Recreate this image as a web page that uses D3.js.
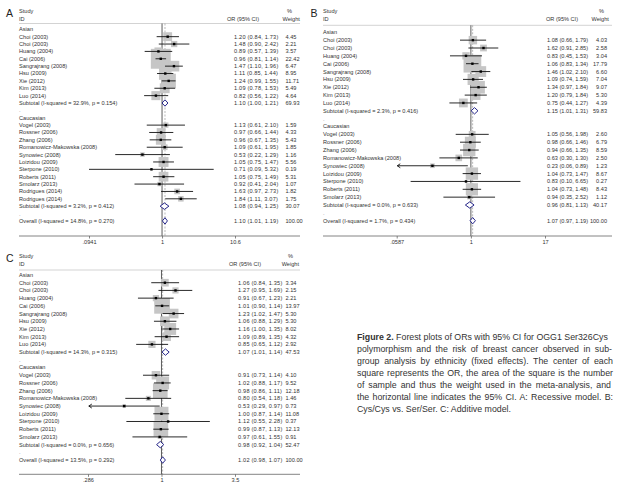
<!DOCTYPE html>
<html>
<head>
<meta charset="utf-8">
<script src="https://cdn.jsdelivr.net/npm/d3@7"></script>
<style>
  body { margin: 0; background: #fff; }
  svg { display: block; font-family: 'Liberation Sans', Arial, sans-serif; }
</style>
</head>
<body>
<svg id="chart" width="617" height="494"></svg>
<script>
// study labels
const asianStudies = ['Choi (2003)', 'Choi (2003)', 'Huang (2004)', 'Cai (2006)',
  'Sangrajrang (2008)', 'Hsu (2009)', 'Xie (2012)', 'Kim (2013)', 'Luo (2014)'];
const caucasianStudiesA = ['Vogel (2003)', 'Rossner (2006)', 'Zhang (2006)',
  'Romanowicz-Makowska (2008)', 'Synowiec (2008)', 'Loizidou (2009)',
  'Sterpone (2010)', 'Roberts (2011)', 'Smolarz (2013)', 'Rodrigues (2014)',
  'Rodrigues (2014)'];
const caucasianStudiesBC = caucasianStudiesA.slice(0, 9);

// [OR, lower, upper, % weight]
const asianA = [[1.20, 0.84, 1.73, 4.45], [1.48, 0.90, 2.42, 2.21], [0.89, 0.57, 1.39, 3.57],
  [0.96, 0.81, 1.14, 22.42], [1.47, 1.10, 1.96, 6.47], [1.11, 0.85, 1.44, 8.95],
  [1.24, 0.99, 1.55, 11.71], [1.09, 0.78, 1.53, 5.49], [0.82, 0.56, 1.22, 4.64]];
const caucasianA = [[1.13, 0.61, 2.10, 1.59], [0.97, 0.66, 1.44, 4.33], [0.96, 0.67, 1.35, 5.43],
  [1.09, 0.61, 1.95, 1.85], [0.53, 0.22, 1.29, 1.16], [1.05, 0.75, 1.47, 5.56],
  [0.71, 0.09, 5.32, 0.19], [1.05, 0.75, 1.49, 5.31], [0.92, 0.41, 2.04, 1.07],
  [1.63, 0.97, 2.73, 1.82], [1.84, 1.11, 3.07, 1.75]];
const pooledA = [[1.10, 1.00, 1.21, 69.93], [1.08, 0.94, 1.25, 30.07], [1.10, 1.01, 1.19, 100.00]];
const hetA = ['32.9%, p = 0.154', '3.2%, p = 0.412', '14.8%, p = 0.270'];
const ticksA = [0.0941, 1, 10.6];
const tickLabelsA = ['.0941', '1', '10.6'];

const asianB = [[1.08, 0.66, 1.79, 4.03], [1.62, 0.91, 2.85, 2.58], [0.83, 0.45, 1.53, 3.04],
  [1.06, 0.83, 1.34, 17.79], [1.46, 1.02, 2.10, 6.60], [1.09, 0.74, 1.59, 7.04],
  [1.34, 0.97, 1.84, 9.07], [1.20, 0.79, 1.84, 5.30], [0.75, 0.44, 1.27, 4.39]];
const caucasianB = [[1.05, 0.56, 1.98, 2.60], [0.98, 0.66, 1.46, 6.79], [0.94, 0.66, 1.35, 8.59],
  [0.63, 0.30, 1.30, 2.50], [0.23, 0.06, 0.89, 1.23], [1.04, 0.73, 1.47, 8.67],
  [0.83, 0.10, 6.65, 0.27], [1.04, 0.73, 1.48, 8.43], [0.94, 0.35, 2.52, 1.12]];
const pooledB = [[1.15, 1.01, 1.31, 59.83], [0.96, 0.81, 1.13, 40.17], [1.07, 0.97, 1.19, 100.00]];
const hetB = ['2.3%, p = 0.416', '0.0%, p = 0.633', '1.7%, p = 0.434'];
const ticksB = [0.0587, 1, 17];
const tickLabelsB = ['.0587', '1', '17'];
const arrowsB = ['Synowiec (2008)'];

const asianC = [[1.06, 0.84, 1.35, 3.34], [1.27, 0.95, 1.69, 2.15], [0.91, 0.67, 1.23, 2.21],
  [1.01, 0.90, 1.14, 13.97], [1.23, 1.02, 1.47, 5.30], [1.06, 0.88, 1.29, 5.30],
  [1.16, 1.00, 1.35, 8.02], [1.09, 0.89, 1.35, 4.32], [0.85, 0.65, 1.12, 2.92]];
const caucasianC = [[0.91, 0.73, 1.14, 4.10], [1.02, 0.88, 1.17, 9.52], [0.98, 0.86, 1.11, 12.18],
  [0.80, 0.54, 1.18, 1.46], [0.53, 0.29, 0.97, 0.73], [1.00, 0.87, 1.14, 11.08],
  [1.12, 0.55, 2.28, 0.37], [0.99, 0.87, 1.13, 12.13], [0.97, 0.61, 1.55, 0.91]];
const pooledC = [[1.07, 1.01, 1.14, 47.53], [0.98, 0.92, 1.04, 52.47], [1.02, 0.98, 1.07, 100.00]];
const hetC = ['14.3%, p = 0.315', '0.0%, p = 0.656', '13.5%, p = 0.292'];
const ticksC = [0.286, 1, 3.5];
const tickLabelsC = ['.286', '1', '3.5'];
const arrowsC = ['Synowiec (2008)'];

const captionLines = [
  'Forest plots of ORs with 95% CI for OGG1 Ser326Cys',
  'polymorphism and the risk of breast cancer observed in sub-',
  'group analysis by ethnicity (fixed effects). The center of each',
  'square represents the OR, the area of the square is the number',
  'of sample and thus the weight used in the meta-analysis, and',
  'the horizontal line indicates the 95% CI. A: Recessive model. B:',
  'Cys/Cys vs. Ser/Ser. C: Additive model.'
];

const fs = 5.6;
const fmt = d3.format('.2f');
const svg = d3.select('#chart');

function buildRows(names1, vals1, names2, vals2, pooled, het) {
  let rows = [{ type: 'group', label: 'Asian' }];
  names1.forEach((n, i) => rows.push({ type: 'study', label: n, v: vals1[i] }));
  rows.push({ type: 'sub', label: 'Subtotal  (I-squared = ' + het[0] + ')', v: pooled[0] });
  rows.push({ type: 'blank' });
  rows.push({ type: 'group', label: 'Caucasian' });
  names2.forEach((n, i) => rows.push({ type: 'study', label: n, v: vals2[i] }));
  rows.push({ type: 'sub', label: 'Subtotal  (I-squared = ' + het[1] + ')', v: pooled[1] });
  rows.push({ type: 'blank' });
  rows.push({ type: 'sub', label: 'Overall  (I-squared = ' + het[2] + ')', v: pooled[2] });
  return rows.map((r, i) => Object.assign({ i: i }, r));
}

function drawPanel(cfg) {
  const g = svg.append('g');
  const x = d3.scaleLog().domain(d3.extent(cfg.ticks)).range([cfg.xMin, cfg.xMax]);
  const y = d3.scaleLinear().domain([0, 1]).range([cfg.y0, cfg.y0 + cfg.dy]);
  const side = d3.scaleSqrt().domain([0, 100]).range([0, 42]);
  const rows = cfg.rows;
  const overall = rows[rows.length - 1].v[0];

  g.append('text').attr('x', cfg.letterX).attr('y', cfg.letterY)
    .style('font-size', '10.5px').attr('fill', '#222').text(cfg.letter);

  // header
  let head = g.append('g').style('font-size', fs + 'px').attr('fill', '#333');
  head.append('text').attr('x', cfg.left).attr('y', cfg.headY - 7.5).attr('dy', '0.35em').text('Study');
  head.append('text').attr('x', cfg.left).attr('y', cfg.headY).attr('dy', '0.35em').text('ID');
  head.append('text').attr('x', cfg.orHeadX).attr('y', cfg.headY).attr('dy', '0.35em').text('OR (95% CI)');
  head.append('text').attr('x', cfg.pctX).attr('y', cfg.headY - 7.5).attr('dy', '0.35em').text('%');
  head.append('text').attr('x', cfg.wHeadX).attr('y', cfg.headY).attr('dy', '0.35em').text('Weight');

  g.append('line').attr('x1', cfg.left).attr('x2', cfg.right)
    .attr('y1', cfg.lineY).attr('y2', cfg.lineY)
    .attr('stroke', '#c8c8c8').attr('stroke-width', 0.8);

  // reference lines
  g.append('line').attr('x1', x(1)).attr('x2', x(1))
    .attr('y1', cfg.lineY).attr('y2', cfg.axisY)
    .attr('stroke', '#333').attr('stroke-width', 0.8);
  g.append('line').attr('x1', x(overall)).attr('x2', x(overall))
    .attr('y1', cfg.lineY).attr('y2', cfg.axisY)
    .attr('stroke', '#999').attr('stroke-width', 0.7)
    .attr('stroke-dasharray', '2,1.5');

  let studies = rows.filter(r => r.type === 'study');
  let pooled = rows.filter(r => r.type === 'sub');

  // weight boxes
  g.selectAll('rect.box').data(studies).enter().append('rect')
    .attr('class', 'box')
    .attr('x', d => x(d.v[0]) - side(d.v[3]) / 2)
    .attr('y', d => y(d.i) - side(d.v[3]) / 2)
    .attr('width', d => side(d.v[3]))
    .attr('height', d => side(d.v[3]))
    .attr('fill', '#c6c6c6');

  // confidence intervals
  const lo = d => x(Math.max(d.v[1], cfg.ticks[0]));
  const hi = d => x(Math.min(d.v[2], cfg.ticks[cfg.ticks.length - 1]));
  g.selectAll('line.ci').data(studies).enter().append('line')
    .attr('class', 'ci')
    .attr('x1', lo).attr('x2', hi)
    .attr('y1', d => y(d.i)).attr('y2', d => y(d.i))
    .attr('stroke', '#111').attr('stroke-width', 0.9);

  let arrowed = studies.filter(d => (cfg.arrows || []).includes(d.label));
  g.selectAll('path.arrow').data(arrowed).enter().append('path')
    .attr('class', 'arrow')
    .attr('d', d => `M${lo(d) + 3},${y(d.i) - 2}L${lo(d)},${y(d.i)}L${lo(d) + 3},${y(d.i) + 2}`)
    .attr('fill', 'none').attr('stroke', '#111').attr('stroke-width', 0.9);

  g.selectAll('rect.pt').data(studies).enter().append('rect')
    .attr('class', 'pt')
    .attr('x', d => x(d.v[0]) - 1.2).attr('y', d => y(d.i) - 1.2)
    .attr('width', 2.4).attr('height', 2.4).attr('fill', '#000');

  // pooled diamonds
  g.selectAll('path.dia').data(pooled).enter().append('path')
    .attr('class', 'dia')
    .attr('d', d => {
      let yy = y(d.i);
      return `M${x(d.v[1])},${yy}L${x(d.v[0])},${yy - 3.2}L${x(d.v[2])},${yy}L${x(d.v[0])},${yy + 3.2}Z`;
    })
    .attr('fill', '#fff').attr('stroke', '#26268a').attr('stroke-width', 1);

  // labels
  let labels = g.append('g').style('font-size', fs + 'px').attr('fill', '#333');
  labels.selectAll('text.name').data(rows).enter()
    .append('text')
    .attr('x', cfg.left).attr('y', d => y(d.i)).attr('dy', '0.35em')
    .attr('fill', d => d.type === 'blank' ? '#888' : '#333')
    .text(d => d.type === 'blank' ? '.' : d.label);

  let valued = rows.filter(r => r.v);
  labels.selectAll('text.or').data(valued).enter().append('text')
    .attr('x', cfg.orX).attr('y', d => y(d.i)).attr('dy', '0.35em')
    .style('letter-spacing', cfg.numSpacing + 'px')
    .text(d => `${fmt(d.v[0])} (${fmt(d.v[1])}, ${fmt(d.v[2])})`);
  labels.selectAll('text.w').data(valued).enter().append('text')
    .attr('x', cfg.wX).attr('y', d => y(d.i)).attr('dy', '0.35em')
    .attr('text-anchor', cfg.wAnchor)
    .text(d => fmt(d.v[3]));

  // axis
  g.append('line').attr('x1', cfg.left).attr('x2', cfg.right)
    .attr('y1', cfg.axisY).attr('y2', cfg.axisY)
    .attr('stroke', '#666').attr('stroke-width', 0.8);
  let axis = g.append('g').attr('transform', `translate(0,${cfg.axisY})`)
    .call(d3.axisBottom(x).tickValues(cfg.ticks)
      .tickFormat((d, i) => cfg.tickLabels[i]).tickSize(2.5).tickPadding(1.5));
  axis.select('.domain').remove();
  axis.selectAll('line').attr('stroke', '#666').attr('stroke-width', 0.8);
  axis.selectAll('text').style('font-size', fs + 'px').attr('fill', '#333')
    .style('font-family', "'Liberation Sans', Arial, sans-serif");
}

drawPanel({
  letter: 'A', letterX: 6, letterY: 17,
  rows: buildRows(asianStudies, asianA, caucasianStudiesA, caucasianA, pooledA, hetA),
  ticks: ticksA, tickLabels: tickLabelsA,
  xMin: 89, xMax: 235, left: 19, right: 300,
  y0: 29.3, dy: 7.37, headY: 19, lineY: 23.5, axisY: 236,
  orHeadX: 227, pctX: 287, wHeadX: 282.5, orX: 234, wX: 285.5, wAnchor: 'start',
  numSpacing: 0.2
});

drawPanel({
  letter: 'B', letterX: 310.5, letterY: 17,
  rows: buildRows(asianStudies, asianB, caucasianStudiesBC, caucasianB, pooledB, hetB),
  ticks: ticksB, tickLabels: tickLabelsB, arrows: arrowsB,
  xMin: 396.7, xMax: 545, left: 323, right: 612,
  y0: 32.3, dy: 7.85, headY: 19, lineY: 25.3, axisY: 236,
  orHeadX: 546, pctX: 599, wHeadX: 591.5, orX: 547, wX: 607, wAnchor: 'end',
  numSpacing: 0
});

drawPanel({
  letter: 'C', letterX: 6, letterY: 262,
  rows: buildRows(asianStudies, asianC, caucasianStudiesBC, caucasianC, pooledC, hetC),
  ticks: ticksC, tickLabels: tickLabelsC, arrows: arrowsC,
  xMin: 88, xMax: 235, left: 19, right: 300,
  y0: 275, dy: 7.71, headY: 264, lineY: 270, axisY: 474.3,
  orHeadX: 229, pctX: 288, wHeadX: 281.7, orX: 238, wX: 285.5, wAnchor: 'start',
  numSpacing: 0.2
});

// caption, justified like the journal text block
const capX = 357;
const capWidths = [246, 255, 256, 256, 254, 256, null];
captionLines.forEach((line, i) => {
  let t = svg.append('text').attr('x', capX).attr('y', 340 + i * 12)
    .style('font-size', '8.8px').attr('fill', '#333');
  if (i === 0) {
    t.append('tspan').style('font-weight', 'bold').text('Figure 2. ');
    t.append('tspan').text(line);
  } else {
    t.text(line);
  }
  if (capWidths[i]) {
    let natural = t.node().getComputedTextLength();
    let gaps = (i === 0 ? 'Figure 2. ' + line : line).split(' ').length - 1;
    t.style('word-spacing', Math.max(0, (capWidths[i] - natural) / gaps) + 'px');
  }
});
</script>
</body>
</html>
